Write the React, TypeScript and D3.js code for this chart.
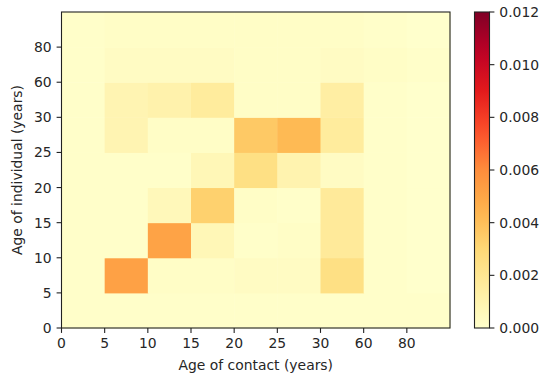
import React from "react";
import * as d3 from "d3";

const ageLabels = ["0", "5", "10", "15", "20", "25", "30", "60", "80"];

// rows = age of individual group (bottom to top), columns = age of contact group
const row0to5 = [0.0001, 0.0001, 0.0001, 0.0001, 0.0001, 0.0001, 0.0001, 0.0001, 0.0001];
const row5to10 = [0.0001, 0.0052, 0.0002, 0.0002, 0.0003, 0.0003, 0.0025, 0.0001, 0.0];
const row10to15 = [0.0001, 0.0001, 0.0051, 0.0007, 0.0001, 0.0002, 0.0017, 0.0001, 0.0];
const row15to20 = [0.0001, 0.0001, 0.0006, 0.0033, 0.0002, 0.0001, 0.0017, 0.0001, 0.0];
const row20to25 = [0.0001, 0.0001, 0.0001, 0.0007, 0.0025, 0.001, 0.0003, 0.0001, 0.0];
const row25to30 = [0.0001, 0.0009, 0.0002, 0.0002, 0.0036, 0.0042, 0.0016, 0.0001, 0.0];
const row30to60 = [0.0001, 0.0009, 0.0011, 0.0016, 0.0002, 0.0002, 0.0014, 0.0001, 0.0];
const row60to80 = [0.0001, 0.0003, 0.0003, 0.0003, 0.0002, 0.0002, 0.0003, 0.0002, 0.0001];
const row80plus = [0.0001, 0.0002, 0.0002, 0.0002, 0.0002, 0.0002, 0.0002, 0.0001, 0.0];

const matrixRows = [row0to5, row5to10, row10to15, row15to20, row20to25, row25to30, row30to60, row60to80, row80plus];

const colorbarTicks = [0, 0.002, 0.004, 0.006, 0.008, 0.01, 0.012];
const vmin = 0;
const vmax = 0.012;
const ylOrRd = ["#ffffcc", "#ffeda0", "#fed976", "#feb24c", "#fd8d3c", "#fc4e2a", "#e31a1c", "#bd0026", "#800026"];

const W = 543;
const H = 379;
const plot = { left: 61.5, right: 450, top: 12, bottom: 328 };
const cbar = { left: 474.5, right: 489.5, top: 12, bottom: 328 };
const FONT = "DejaVu Sans, sans-serif";
const FS = 13.9;
const TXT = "#262626";
const TICK = 4.9;

export default function App() {
  const idx = ageLabels.map((_, i) => i);
  const x = d3.scaleBand<number>().domain(idx).range([plot.left, plot.right]).padding(0);
  const y = d3.scaleBand<number>().domain(idx).range([plot.bottom, plot.top]).padding(0);
  const color = d3
    .scaleLinear<string>()
    .domain(ylOrRd.map((_, i) => vmin + (i * (vmax - vmin)) / (ylOrRd.length - 1)))
    .range(ylOrRd)
    .interpolate(d3.interpolateRgb)
    .clamp(true);
  const cy = d3.scaleLinear().domain([vmin, vmax]).range([cbar.bottom, cbar.top]);

  const cells: JSX.Element[] = [];
  matrixRows.forEach((row, ri) => {
    row.forEach((v, ci) => {
      cells.push(
        <rect
          key={`${ri}-${ci}`}
          x={x(ci)!}
          y={y(ri)!}
          width={x.bandwidth() + 0.5}
          height={y.bandwidth() + 0.5}
          fill={color(v)}
        />
      );
    });
  });

  const gradStops = d3.range(0, 1.0001, 0.05);

  return (
    <svg
      width={W}
      height={H}
      style={{ position: "absolute", left: 0, top: 0, background: "#fff" }}
      fontFamily={FONT}
    >
      <defs>
        <linearGradient id="cbarGrad" x1="0" y1="1" x2="0" y2="0">
          {gradStops.map((t) => (
            <stop key={t} offset={t} stopColor={color(vmin + t * (vmax - vmin))} />
          ))}
        </linearGradient>
      </defs>
      <rect x={0} y={0} width={W} height={H} fill="#fff" />
      <g>{cells}</g>
      <rect
        x={plot.left}
        y={plot.top}
        width={plot.right - plot.left}
        height={plot.bottom - plot.top}
        fill="none"
        stroke="#222"
        strokeWidth={1.1}
      />
      {/* x axis ticks */}
      {idx.map((i) => (
        <g key={`xt${i}`} transform={`translate(${x(i)},${plot.bottom})`}>
          <line y1={0} y2={TICK} stroke="#222" strokeWidth={1.1} />
          <text y={20} textAnchor="middle" fontSize={FS} fill={TXT}>
            {ageLabels[i]}
          </text>
        </g>
      ))}
      {/* y axis ticks */}
      {idx.map((i) => (
        <g key={`yt${i}`} transform={`translate(${plot.left},${y(i)! + y.bandwidth()})`}>
          <line x1={0} x2={-TICK} stroke="#222" strokeWidth={1.1} />
          <text x={-9.8} dy="0.36em" textAnchor="end" fontSize={FS} fill={TXT}>
            {ageLabels[i]}
          </text>
        </g>
      ))}
      <text x={(plot.left + plot.right) / 2} y={370} textAnchor="middle" fontSize={FS} fill={TXT}>
        Age of contact (years)
      </text>
      <text
        transform={`translate(21.5,${(plot.top + plot.bottom) / 2}) rotate(-90)`}
        textAnchor="middle"
        fontSize={FS}
        fill={TXT}
      >
        Age of individual (years)
      </text>
      {/* colorbar */}
      <rect
        x={cbar.left}
        y={cbar.top}
        width={cbar.right - cbar.left}
        height={cbar.bottom - cbar.top}
        fill="url(#cbarGrad)"
        stroke="#222"
        strokeWidth={1.1}
      />
      {colorbarTicks.map((t) => (
        <g key={`ct${t}`} transform={`translate(${cbar.right},${cy(t)})`}>
          <line x1={0} x2={TICK} stroke="#222" strokeWidth={1.1} />
          <text x={9.8} dy="0.36em" fontSize={FS} fill={TXT}>
            {d3.format(".3f")(t)}
          </text>
        </g>
      ))}
    </svg>
  );
}
